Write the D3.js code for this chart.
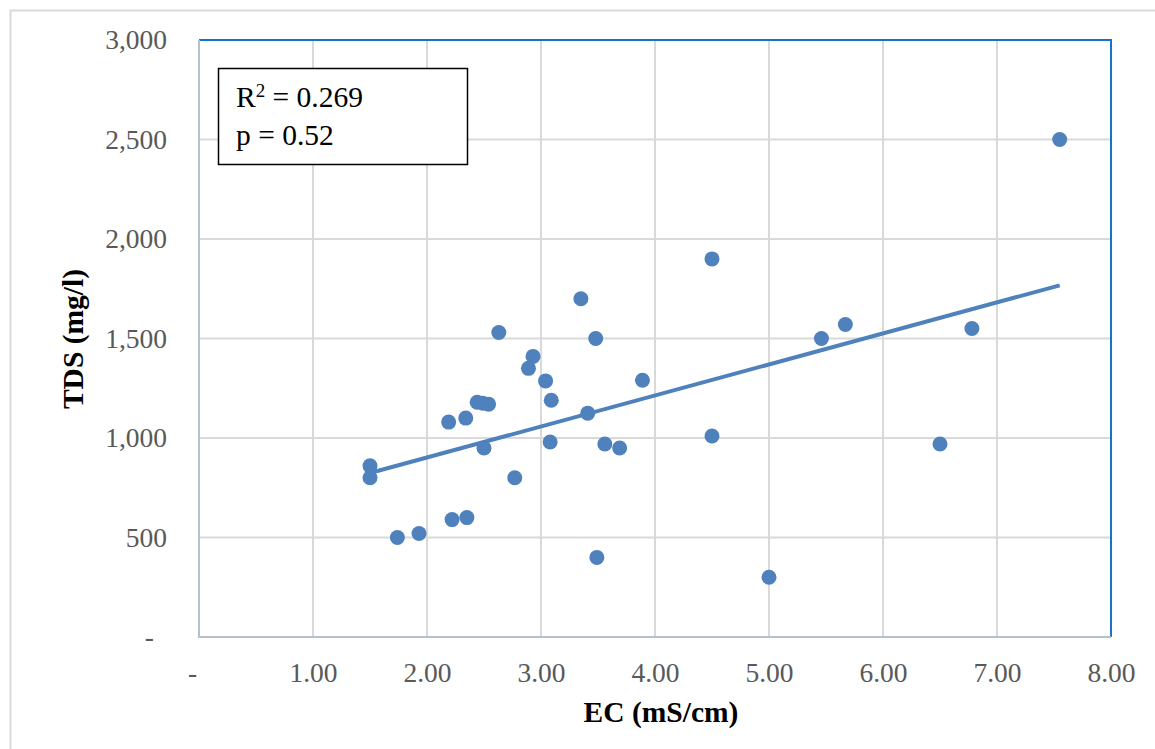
<!DOCTYPE html>
<html lang="en">
<head>
<meta charset="UTF-8">
<title>TDS vs EC</title>
<script src="https://cdn.jsdelivr.net/npm/d3@7"></script>
<style>
    body { margin: 0; background: #fff; }
    text { font-family: "Liberation Serif", "Times New Roman", serif; }
    .tick text { fill: #595959; font-size: 27.5px; }
    .axis-title { font-size: 29.5px; font-weight: bold; fill: #000; }
    .stat { font-size: 29.5px; fill: #000; }
</style>
</head>
<body>
<svg width="1155" height="749"></svg>
<script>
    // EC (mS/cm) and TDS (mg/l)
    const ec  = [1.50, 1.50, 1.74, 1.93, 2.22, 2.35, 2.19, 2.34, 2.44, 2.49, 2.54, 2.50,
                 2.77, 2.63, 2.89, 2.93, 3.04, 3.09, 3.08, 3.35, 3.48, 3.41, 3.56, 3.69,
                 3.89, 3.49, 4.50, 4.50, 5.00, 5.46, 5.67, 6.50, 6.78, 7.55];
    const tds = [860, 800, 500, 520, 590, 600, 1080, 1100, 1180, 1175, 1170, 950,
                 800, 1530, 1350, 1410, 1287, 1190, 980, 1700, 1500, 1125, 970, 950,
                 1290, 400, 1900, 1010, 300, 1500, 1570, 970, 1550, 2500];
    const xTicks = [0, 1, 2, 3, 4, 5, 6, 7, 8];
    const yTicks = [0, 500, 1000, 1500, 2000, 2500, 3000];
    const statLines = ["R", "p = 0.52"];

    const svg = d3.select("svg");
    const pLeft = 199, pRight = 1111, pTop = 40, pBottom = 637;

    const x = d3.scaleLinear().domain([0, 8]).range([pLeft, pRight]);
    const y = d3.scaleLinear().domain([0, 3000]).range([pBottom, pTop]);

    // outer chart frame
    svg.append("rect")
       .attr("x", 10.5).attr("y", 10.5)
       .attr("width", 1160).attr("height", 760)
       .attr("fill", "none").attr("stroke", "#d9d9d9").attr("stroke-width", 2);

    // gridlines
    svg.append("g").selectAll("line.v")
       .data(xTicks.slice(1, -1))
       .join("line")
         .attr("x1", d => x(d)).attr("x2", d => x(d))
         .attr("y1", pTop).attr("y2", pBottom)
         .attr("stroke", "#d9d9d9").attr("stroke-width", 2);
    svg.append("g").selectAll("line.h")
       .data(yTicks.slice(1, -1))
       .join("line")
         .attr("x1", pLeft).attr("x2", pRight)
         .attr("y1", d => y(d)).attr("y2", d => y(d))
         .attr("stroke", "#d9d9d9").attr("stroke-width", 2);

    // plot frame: blue top/right, grey axis lines left/bottom
    svg.append("path")
       .attr("d", `M${pLeft},${pTop}H${pRight}V${pBottom}`)
       .attr("fill", "none").attr("stroke", "#1872c8").attr("stroke-width", 2);
    svg.append("path")
       .attr("d", `M${pLeft},${pTop}V${pBottom}H${pRight}`)
       .attr("fill", "none").attr("stroke", "#b4c0cc").attr("stroke-width", 2);

    // axes (labels only); zero shows as "-" like accounting format
    const xAxis = d3.axisBottom(x).tickValues(xTicks).tickSize(0).tickPadding(25)
        .tickFormat(d => d === 0 ? "-" : d3.format(".2f")(d));
    svg.append("g").attr("transform", `translate(0,${pBottom})`).call(xAxis)
       .call(g => g.select(".domain").remove())
       .call(g => g.selectAll(".tick text").filter(d => d === 0).attr("dx", -7));

    const yAxis = d3.axisLeft(y).tickValues(yTicks).tickSize(0).tickPadding(32)
        .tickFormat(d => d === 0 ? "-" : d3.format(",")(d));
    svg.append("g").attr("transform", `translate(${pLeft},0)`).call(yAxis)
       .call(g => g.select(".domain").remove())
       .call(g => g.selectAll(".tick text").filter(d => d === 0).attr("dx", -13));
    svg.selectAll(".tick text").attr("font-family", null).attr("font-size", null);

    // axis titles
    svg.append("text").attr("class", "axis-title")
       .attr("x", 661).attr("y", 722).attr("text-anchor", "middle")
       .text("EC (mS/cm)");
    svg.append("text").attr("class", "axis-title")
       .attr("transform", "translate(83,339) rotate(-90)").attr("text-anchor", "middle")
       .text("TDS (mg/l)");

    // linear trendline from the data
    const pts = ec.map((v, i) => [v, tds[i]]);
    const mx = d3.mean(ec), my = d3.mean(tds);
    const slope = d3.sum(pts, p => (p[0] - mx) * (p[1] - my)) / d3.sum(ec, v => (v - mx) ** 2);
    const icpt = my - slope * mx;
    const [x0, x1] = d3.extent(ec);
    svg.append("line")
       .attr("x1", x(x0)).attr("y1", y(icpt + slope * x0))
       .attr("x2", x(x1)).attr("y2", y(icpt + slope * x1))
       .attr("stroke", "#4f81bd").attr("stroke-width", 4);

    // points
    svg.append("g").selectAll("circle")
       .data(pts)
       .join("circle")
         .attr("cx", d => x(d[0]))
         .attr("cy", d => y(d[1]))
         .attr("r", 7.5)
         .attr("fill", "#4f81bd");

    // statistics box
    svg.append("rect")
       .attr("x", 218.5).attr("y", 68.5).attr("width", 249).attr("height", 96)
       .attr("fill", "#fff").attr("stroke", "#000").attr("stroke-width", 1.5);
    const r2 = svg.append("text").attr("class", "stat").attr("x", 236).attr("y", 107);
    r2.append("tspan").text(statLines[0]);
    r2.append("tspan").attr("dy", -10).attr("font-size", 19).text("2");
    r2.append("tspan").attr("dy", 10).text(" = 0.269");
    svg.append("text").attr("class", "stat").attr("x", 236).attr("y", 145).text(statLines[1]);
</script>
</body>
</html>
